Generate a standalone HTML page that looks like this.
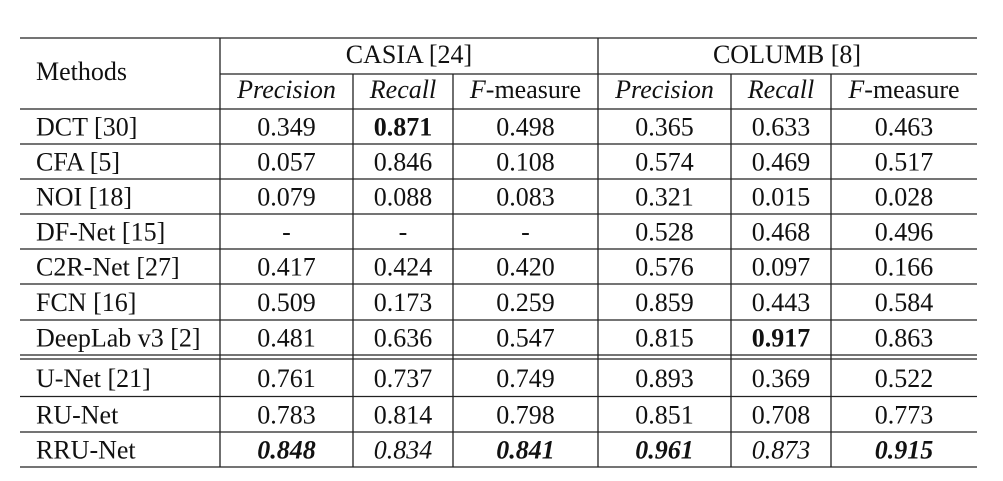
<!DOCTYPE html>
<html><head><meta charset="utf-8"><style>
html,body{margin:0;padding:0;background:#fff;}
svg{display:block;font-family:"Liberation Serif",serif;font-size:26px;fill:#111;}
</style></head><body>
<svg id="t" width="1003" height="481" viewBox="0 0 1003 481">
<g id="lines" stroke="#222" stroke-width="1.3"></g>
<g id="txt"></g>
</svg>
<script>
const methods=["DCT [30]","CFA [5]","NOI [18]","DF-Net [15]","C2R-Net [27]","FCN [16]","DeepLab v3 [2]","U-Net [21]","RU-Net","RRU-Net"];
const casiaP=["0.349","0.057","0.079","-","0.417","0.509","0.481","0.761","0.783","0.848"];
const casiaR=["0.871","0.846","0.088","-","0.424","0.173","0.636","0.737","0.814","0.834"];
const casiaF=["0.498","0.108","0.083","-","0.420","0.259","0.547","0.749","0.798","0.841"];
const columbP=["0.365","0.574","0.321","0.528","0.576","0.859","0.815","0.893","0.851","0.961"];
const columbR=["0.633","0.469","0.015","0.468","0.097","0.443","0.917","0.369","0.708","0.873"];
const columbF=["0.463","0.517","0.028","0.496","0.166","0.584","0.863","0.522","0.773","0.915"];
const NS="http://www.w3.org/2000/svg";
const L=document.getElementById('lines'),T=document.getElementById('txt');
const X0=20,X1=977,cols=[220,353,453,598,731,831,977];
const rowY=[109,144,179,214,249,284,320,355,359,396.5,432,467];
function line(x1,y1,x2,y2,name){const l=document.createElementNS(NS,'line');
l.setAttribute('x1',x1);l.setAttribute('y1',y1);l.setAttribute('x2',x2);l.setAttribute('y2',y2);


L.appendChild(l);}
function text(x,y,s,anchor,style,weight,name){const t=document.createElementNS(NS,'text');
t.setAttribute('x',x);t.setAttribute('y',y);t.setAttribute('text-anchor',anchor);
if(style)t.setAttribute('font-style',style);if(weight)t.setAttribute('font-weight',weight);
t.textContent=s;


T.appendChild(t);return t;}
// horizontal lines
line(X0,38,X1,38,'top-rule');
line(220,74,X1,74,'group-rule');
rowY.forEach((y,i)=>line(X0,y,X1,y,'row-rule'));
// vertical lines
line(220,38,220,467,'col-rule');
line(598,38,598,467,'col-rule');
[353,453,731,831].forEach(x=>line(x,74,x,467,'col-rule'));
// headers
text(36,80,'Methods','start',null,null,'methods-header');
text(409,63,'CASIA [24]','middle',null,null,'casia-header');
text(787,63,'COLUMB [8]','middle',null,null,'columb-header');
const subs=['Precision','Recall','F-measure'];
for(let g=0;g<2;g++){for(let k=0;k<3;k++){const c=g*3+k;const cx=(cols[c]+cols[c+1])/2;
 if(k<2){text(cx,98,subs[k],'middle','italic',null,'subheader-'+subs[k].toLowerCase());}
 else{const t=text(cx,98,'','middle',null,null,'subheader-f-measure');
  const a=document.createElementNS(NS,'tspan');a.setAttribute('font-style','italic');a.textContent='F';t.appendChild(a);
  const b=document.createElementNS(NS,'tspan');b.textContent='-measure';t.appendChild(b);}}}
// body
const series=[casiaP,casiaR,casiaF,columbP,columbR,columbF];
const bold={"0-1":1,"6-4":1};
methods.forEach((m,i)=>{const top=rowY[i<7?i:i+1],bot=rowY[i<7?i+1:i+2];const by=(top+bot)/2+9;
 text(36,by,m,'start',null,null,'method-name');
 series.forEach((s,c)=>{const cx=(cols[c]+cols[c+1])/2;
  let st=null,w=null;
  if(i===9){st='italic';if(c!==1&&c!==4)w='bold';}
  if(bold[i+'-'+c])w='bold';
  text(cx,by,s[i],'middle',st,w,'cell-value');});});
</script>
</body></html>
